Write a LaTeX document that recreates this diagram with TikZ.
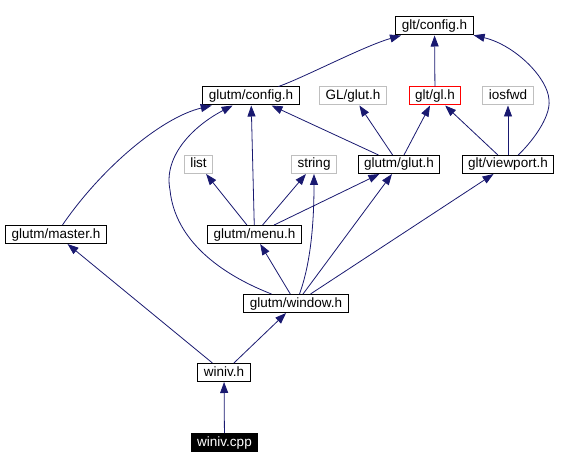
\documentclass[tikz,border=0pt]{standalone}
\usepackage{fontspec}
\setmainfont{Liberation Sans}
\usetikzlibrary{arrows.meta}
\definecolor{edgeColor}{HTML}{191970}
\definecolor{extColor}{HTML}{BFBFBF}
\definecolor{mainColor}{HTML}{FF0000}

\begin{document}
\begin{tikzpicture}[x=1pt, y=-1pt, font=\fontsize{13.5}{16}\selectfont,
    fileBox/.style={draw, line width=1pt, inner xsep=6pt, inner ysep=1.5pt,
        minimum height=18pt, text height=10pt, text depth=3pt},
    extBox/.style={fileBox, draw=extColor},
    mainBox/.style={fileBox, draw=mainColor},
    dep/.style={edgeColor, line width=0.8pt, -{Triangle[length=11pt, width=8pt]}}]
    \useasboundingbox (0,0) rectangle (588,470);
    % files
    \node[fileBox] (gltConfig) at (434.5,26) {glt/config.h};
    \node[fileBox] (glutmConfig) at (251,96) {glutm/config.h};
    \node[extBox] (glGlut) at (353,96) {GL/glut.h};
    \node[mainBox] (gltGl) at (435,96) {glt/gl.h};
    \node[extBox] (iosfwd) at (508,96) {iosfwd};
    \node[extBox] (list) at (198.5,164.5) {list};
    \node[extBox] (string) at (314,164.5) {string};
    \node[fileBox] (glutmGlut) at (399,164.5) {glutm/glut.h};
    \node[fileBox] (gltViewport) at (508,164.5) {glt/viewport.h};
    \node[fileBox] (glutmMaster) at (56,234.5) {glutm/master.h};
    \node[fileBox] (glutmMenu) at (254.5,234.5) {glutm/menu.h};
    \node[fileBox] (glutmWindow) at (296,303.5) {glutm/window.h};
    \node[fileBox] (winivH) at (224,372.5) {winiv.h};
    \node[fileBox, fill=black, text=white] (winivCpp) at (224.5,442.5) {winiv.cpp};
    % includes
    \draw[dep] (glutmConfig) .. controls (303,78) and (364,46) .. (gltConfig);
    \draw[dep] (gltGl) -- (gltConfig);
    \draw[dep] (gltViewport) .. controls (530,144) and (551,118) .. (549,100)
        .. controls (548,78) and (515,45) .. (gltConfig);
    \draw[dep] (glutmGlut) -- (glutmConfig);
    \draw[dep] (glutmGlut) -- (glGlut);
    \draw[dep] (glutmGlut) -- (gltGl);
    \draw[dep] (gltViewport) -- (gltGl);
    \draw[dep] (gltViewport) -- (iosfwd);
    \draw[dep] (glutmMaster) .. controls (100,170) and (160,118) .. (glutmConfig);
    \draw[dep] (glutmMenu) -- (glutmConfig);
    \draw[dep] (glutmMenu) -- (list);
    \draw[dep] (glutmMenu) -- (string);
    \draw[dep] (glutmMenu) -- (glutmGlut);
    \draw[dep] (glutmWindow) .. controls (220,274) and (175,240) .. (170,190)
        .. controls (163,155) and (195,125) .. (glutmConfig);
    \draw[dep] (glutmWindow) -- (glutmMenu);
    \draw[dep] (glutmWindow) .. controls (312,260) and (314,215) .. (string);
    \draw[dep] (glutmWindow) -- (glutmGlut);
    \draw[dep] (glutmWindow) -- (gltViewport);
    \draw[dep] (winivH) -- (glutmMaster);
    \draw[dep] (winivH) -- (glutmWindow);
    \draw[dep] (winivCpp) -- (winivH);
\end{tikzpicture}
\end{document}
